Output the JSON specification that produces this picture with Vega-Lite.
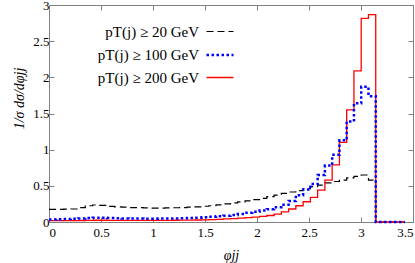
{
  "$schema": "https://vega.github.io/schema/vega-lite/v6.json",
  "width": 364,
  "height": 217,
  "autosize": {"type": "none"},
  "padding": {"left": 49, "top": 5, "right": 2, "bottom": 41},
  "background": "white",
  "config": {
    "font": "Liberation Serif",
    "view": {"stroke": "#808080", "strokeWidth": 1},
    "axis": {
      "domainColor": "#808080",
      "tickColor": "#808080",
      "tickSize": -5,
      "grid": false,
      "labelFont": "Liberation Serif",
      "labelFontSize": 13,
      "labelColor": "#000000",
      "titleFont": "Liberation Serif",
      "titleFontSize": 14,
      "titleFontWeight": "normal",
      "titleColor": "#000000"
    }
  },
  "data": {
    "values": [
      {"x": 0, "p20": 0.175, "p100": 0.035, "p200": 0.018},
      {"x": 0.0698, "p20": 0.175, "p100": 0.037, "p200": 0.018},
      {"x": 0.1396, "p20": 0.177, "p100": 0.040, "p200": 0.019},
      {"x": 0.2094, "p20": 0.180, "p100": 0.045, "p200": 0.020},
      {"x": 0.2793, "p20": 0.200, "p100": 0.050, "p200": 0.021},
      {"x": 0.3491, "p20": 0.225, "p100": 0.056, "p200": 0.023},
      {"x": 0.4189, "p20": 0.235, "p100": 0.060, "p200": 0.024},
      {"x": 0.4887, "p20": 0.230, "p100": 0.058, "p200": 0.024},
      {"x": 0.5585, "p20": 0.215, "p100": 0.055, "p200": 0.023},
      {"x": 0.6283, "p20": 0.210, "p100": 0.052, "p200": 0.022},
      {"x": 0.6981, "p20": 0.205, "p100": 0.050, "p200": 0.022},
      {"x": 0.7679, "p20": 0.200, "p100": 0.048, "p200": 0.022},
      {"x": 0.8378, "p20": 0.198, "p100": 0.047, "p200": 0.022},
      {"x": 0.9076, "p20": 0.195, "p100": 0.046, "p200": 0.022},
      {"x": 0.9774, "p20": 0.193, "p100": 0.046, "p200": 0.022},
      {"x": 1.0472, "p20": 0.193, "p100": 0.047, "p200": 0.023},
      {"x": 1.1170, "p20": 0.195, "p100": 0.048, "p200": 0.023},
      {"x": 1.1868, "p20": 0.197, "p100": 0.050, "p200": 0.024},
      {"x": 1.2566, "p20": 0.200, "p100": 0.052, "p200": 0.025},
      {"x": 1.3265, "p20": 0.205, "p100": 0.055, "p200": 0.026},
      {"x": 1.3963, "p20": 0.210, "p100": 0.060, "p200": 0.028},
      {"x": 1.4661, "p20": 0.218, "p100": 0.065, "p200": 0.030},
      {"x": 1.5359, "p20": 0.225, "p100": 0.072, "p200": 0.033},
      {"x": 1.6057, "p20": 0.237, "p100": 0.080, "p200": 0.037},
      {"x": 1.6755, "p20": 0.250, "p100": 0.088, "p200": 0.042},
      {"x": 1.7453, "p20": 0.265, "p100": 0.097, "p200": 0.047},
      {"x": 1.8151, "p20": 0.278, "p100": 0.110, "p200": 0.053},
      {"x": 1.8850, "p20": 0.292, "p100": 0.128, "p200": 0.060},
      {"x": 1.9548, "p20": 0.308, "p100": 0.142, "p200": 0.068},
      {"x": 2.0246, "p20": 0.328, "p100": 0.158, "p200": 0.078},
      {"x": 2.0944, "p20": 0.350, "p100": 0.178, "p200": 0.090},
      {"x": 2.1642, "p20": 0.372, "p100": 0.205, "p200": 0.110},
      {"x": 2.2340, "p20": 0.395, "p100": 0.238, "p200": 0.140},
      {"x": 2.3038, "p20": 0.415, "p100": 0.290, "p200": 0.180},
      {"x": 2.3736, "p20": 0.435, "p100": 0.370, "p200": 0.225},
      {"x": 2.4435, "p20": 0.460, "p100": 0.450, "p200": 0.280},
      {"x": 2.5133, "p20": 0.490, "p100": 0.525, "p200": 0.340},
      {"x": 2.5831, "p20": 0.510, "p100": 0.650, "p200": 0.440},
      {"x": 2.6529, "p20": 0.540, "p100": 0.780, "p200": 0.580},
      {"x": 2.7227, "p20": 0.560, "p100": 0.930, "p200": 0.790},
      {"x": 2.7925, "p20": 0.580, "p100": 1.130, "p200": 1.100},
      {"x": 2.8623, "p20": 0.610, "p100": 1.390, "p200": 1.550},
      {"x": 2.9322, "p20": 0.630, "p100": 1.640, "p200": 2.090},
      {"x": 3.0020, "p20": 0.650, "p100": 1.870, "p200": 2.816},
      {"x": 3.0718, "p20": 0.580, "p100": 1.740, "p200": 2.866},
      {"x": 3.1416, "p20": 0, "p100": 0, "p200": 0},
      {"x": 3.2114, "p20": 0, "p100": 0, "p200": 0},
      {"x": 3.2812, "p20": 0, "p100": 0, "p200": 0},
      {"x": 3.3510, "p20": 0, "p100": 0, "p200": 0},
      {"x": 3.4208, "p20": 0, "p100": 0, "p200": 0}
    ]
  },
  "transform": [{"fold": ["p20", "p200", "p100"], "as": ["series", "value"]}],
  "layer": [
    {
      "mark": {"type": "line", "interpolate": "step-after", "strokeCap": "butt"},
      "encoding": {
        "x": {
          "field": "x", "type": "quantitative",
          "scale": {"domain": [0, 3.5], "nice": false, "zero": false},
          "axis": {
            "orient": "bottom",
            "values": [0, 0.5, 1, 1.5, 2, 2.5, 3, 3.5],
            "format": "~g",
            "labelPadding": 9,
            "title": "φjj",
            "titleFontStyle": "italic",
            "titleX": 182,
            "titleY": 33,
            "titleAlign": "center",
            "titleBaseline": "middle"
          }
        },
        "y": {
          "field": "value", "type": "quantitative",
          "scale": {"domain": [0, 3], "nice": false},
          "axis": {
            "orient": "left",
            "values": [0, 0.5, 1, 1.5, 2, 2.5, 3],
            "format": "~g",
            "labelPadding": 5,
            "title": "1/σ dσ/dφjj",
            "titleFontStyle": "italic",
            "titleX": -30,
            "titleY": 93,
            "titleAngle": 270,
            "titleAlign": "center",
            "titleBaseline": "middle"
          }
        },
        "color": {
          "field": "series", "type": "nominal",
          "scale": {"domain": ["p20", "p100", "p200"], "range": ["#000000", "#0000ff", "#ff0000"]},
          "legend": {
            "title": null,
            "orient": "none",
            "legendX": 156,
            "legendY": 12,
            "padding": 0,
            "labelAlign": "right",
            "labelOffset": -36,
            "labelFont": "Liberation Serif",
            "labelFontSize": 15,
            "labelColor": "#000000",
            "symbolType": "stroke",
            "symbolSize": 729,
            "rowPadding": -6.5,
            "labelExpr": "datum.label == 'p20' ? 'pT(j) ≥ 20 GeV' : datum.label == 'p100' ? 'pT(j) ≥ 100 GeV' : 'pT(j) ≥ 200 GeV'"
          }
        },
        "strokeDash": {
          "field": "series", "type": "nominal",
          "scale": {"domain": ["p20", "p100", "p200"], "range": [[7, 4], [2.5, 2.5], [1, 0]]}
        },
        "strokeWidth": {
          "field": "series", "type": "nominal",
          "scale": {"type": "ordinal", "domain": ["p20", "p100", "p200"], "range": [1.2, 2.5, 1.3]}
        }
      }
    },
    {
      "mark": {"type": "point", "opacity": 0},
      "encoding": {
        "x": {
          "field": "x", "type": "quantitative",
          "scale": {"domain": [0, 3.5], "nice": false, "zero": false},
          "axis": {"orient": "top", "values": [0, 0.5, 1, 1.5, 2, 2.5, 3, 3.5], "labels": false, "title": null}
        },
        "y": {
          "field": "value", "type": "quantitative",
          "scale": {"domain": [0, 3], "nice": false},
          "axis": {"orient": "right", "values": [0, 0.5, 1, 1.5, 2, 2.5, 3], "labels": false, "title": null}
        }
      }
    }
  ],
  "resolve": {"axis": {"x": "independent", "y": "independent"}}
}
